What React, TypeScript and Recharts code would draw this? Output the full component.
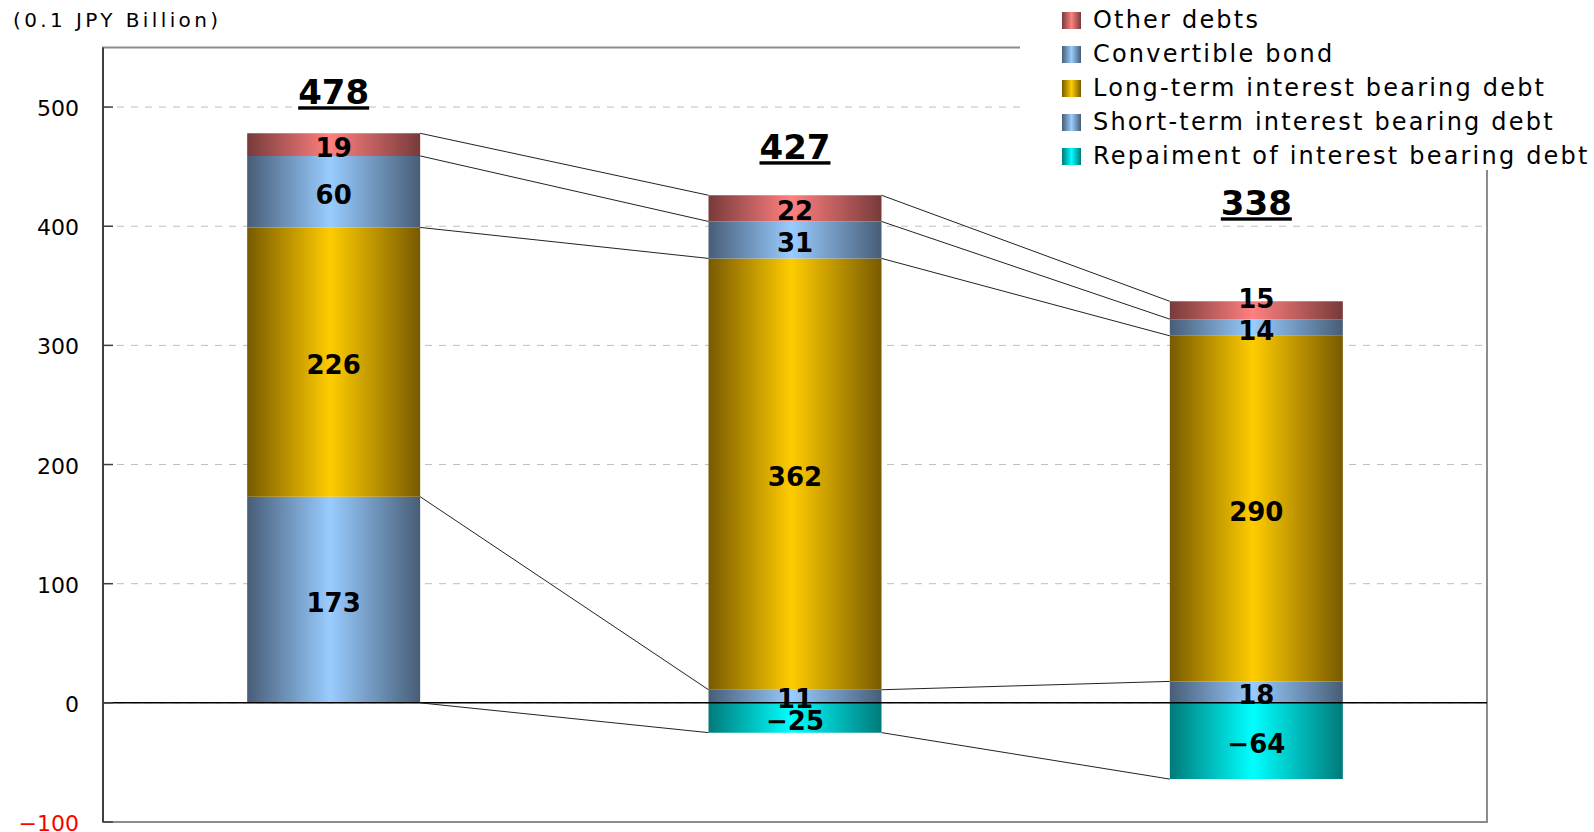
import React from "react";
import {
  ComposedChart,
  Bar,
  XAxis,
  YAxis,
  CartesianGrid,
  ReferenceLine,
  ReferenceArea,
  LabelList,
  Legend,
} from "recharts";

// bar positions on a numeric x axis (one unit per period)
const X_POS = [0.5, 1.5, 2.5];
const SHORT_TERM = [173, 11, 18];
const REPAYMENT = [0, -25, -64];
const LONG_TERM = [226, 362, 290];
const CONVERTIBLE = [60, 31, 14];
const OTHER = [19, 22, 15];
const TOTALS = [478, 427, 338];
const Y_TICKS = [-100, 0, 100, 200, 300, 400, 500];

const BAR_FRACTION = 0.375; // bar width as share of the category band
const HALF = BAR_FRACTION / 2;
const FONT = "'DejaVu Sans', sans-serif";
// how far (px) each total sits above its bar, as placed in the source
const TOTAL_LIFT = [29, 36, 86];

const SERIES = [
  { key: "short", name: "Short-term interest bearing debt", dark: "#475d77", light: "#99ccff" },
  { key: "repay", name: "Repaiment of interest bearing debt", dark: "#007a7a", light: "#00ffff" },
  { key: "long", name: "Long-term interest bearing debt", dark: "#785a00", light: "#ffcc00" },
  { key: "conv", name: "Convertible bond", dark: "#475d77", light: "#99ccff" },
  { key: "other", name: "Other debts", dark: "#783a3a", light: "#ff8080" },
];
const LEGEND_ORDER = ["other", "conv", "long", "short", "repay"];

const data = X_POS.map((x, i) => ({
  x,
  short: SHORT_TERM[i],
  repay: REPAYMENT[i],
  long: LONG_TERM[i],
  conv: CONVERTIBLE[i],
  other: OTHER[i],
}));

// stack boundaries that get joined from one bar to the next
const boundaries = [
  SHORT_TERM,
  SHORT_TERM.map((v, i) => v + LONG_TERM[i]),
  SHORT_TERM.map((v, i) => v + LONG_TERM[i] + CONVERTIBLE[i]),
  SHORT_TERM.map((v, i) => v + LONG_TERM[i] + CONVERTIBLE[i] + OTHER[i]),
  REPAYMENT,
];

const connectors: { x: number; y: number }[][] = [];
boundaries.forEach((b) => {
  for (let i = 0; i < X_POS.length - 1; i++) {
    connectors.push([
      { x: X_POS[i] + HALF, y: b[i] },
      { x: X_POS[i + 1] - HALF, y: b[i + 1] },
    ]);
  }
});

const fmt = (v: any) => (v < 0 ? "\u2212" + Math.abs(v) : String(v));

const YTick = (props: any) => {
  const { x, y, payload } = props;
  const v = payload.value;
  return (
    <text
      x={x}
      y={y}
      dy={9}
      textAnchor="end"
      fontSize={22}
      fontFamily={FONT}
      fill={v < 0 ? "#ff0000" : "#000"}
    >
      {v < 0 ? "\u2212" + Math.abs(v) : v}
    </text>
  );
};

const SegmentLabel = (props: any) => {
  const { x, y, width, height, value, top } = props;
  if (!value) return null;
  const h = Math.abs(height);
  const y0 = Math.min(y, y + height);
  // thin top segments get their label nudged up, clear of the one below
  const lift = top && h < 20 ? 14 : 0;
  return (
    <text
      x={x + width / 2}
      y={y0 + h / 2 + 3 - lift}
      textAnchor="middle"
      dominantBaseline="central"
      fontSize={26}
      fontWeight="bold"
      fontFamily={FONT}
      fill="#000"
    >
      {fmt(value)}
    </text>
  );
};

const TotalLabel = (props: any) => {
  const { x, y, width, index } = props;
  return (
    <text
      x={x + width / 2}
      y={y - TOTAL_LIFT[index]}
      textAnchor="middle"
      fontSize={34}
      fontWeight="bold"
      fontFamily={FONT}
      fill="#000"
      style={{ textDecoration: "underline" }}
    >
      {TOTALS[index]}
    </text>
  );
};

const renderLegend = () => (
  <div style={{ fontFamily: FONT, fontSize: 24, letterSpacing: 2.2, paddingTop: 3 }}>
    {LEGEND_ORDER.map((k) => {
      const s = SERIES.find((d) => d.key === k)!;
      return (
        <div key={s.key} style={{ display: "flex", alignItems: "center", height: 34 }}>
          <span
            style={{
              display: "inline-block",
              width: 19,
              height: 17,
              marginLeft: 42,
              marginRight: 12,
              background: `linear-gradient(to right, ${s.dark}, ${s.light} 50%, ${s.dark})`,
            }}
          />
          <span style={{ color: "#000", whiteSpace: "nowrap" }}>{s.name}</span>
        </div>
      );
    })}
  </div>
);

export default function App() {
  return (
    <div style={{ position: "absolute", left: 0, top: 0, width: 1594, height: 832, background: "#fff" }}>
      <div
        style={{
          position: "absolute",
          left: 13,
          top: 8,
          fontFamily: FONT,
          fontSize: 20,
          letterSpacing: 3.4,
          color: "#000",
        }}
      >
        (0.1 JPY Billion)
      </div>
      <ComposedChart
        width={1594}
        height={832}
        data={data}
        stackOffset="sign"
        barCategoryGap={`${((1 - BAR_FRACTION) / 2) * 100}%`}
        margin={{ top: 47.5, right: 107, bottom: 10, left: 0 }}
      >
        <defs>
          {SERIES.map((s) => (
            <linearGradient key={s.key} id={`grad-${s.key}`} x1="0" y1="0" x2="1" y2="0">
              <stop offset="0%" stopColor={s.dark} />
              <stop offset="48%" stopColor={s.light} />
              <stop offset="100%" stopColor={s.dark} />
            </linearGradient>
          ))}
        </defs>
        <CartesianGrid vertical={false} stroke="#bfbfbf" strokeDasharray="7 7" />
        <ReferenceArea
          x1={0}
          x2={3}
          y1={-100}
          y2={550}
          fill="none"
          fillOpacity={0}
          stroke="#8c8c8c"
          strokeWidth={2}
        />
        <XAxis type="number" dataKey="x" domain={[0, 3]} ticks={X_POS} hide />
        <YAxis
          type="number"
          domain={[-100, 550]}
          ticks={Y_TICKS}
          width={103}
          axisLine={{ stroke: "#404040", strokeWidth: 2 }}
          tickLine={{ stroke: "#404040", strokeWidth: 1.5 }}
          tickSize={-10}
          tickMargin={34}
          tick={<YTick />}
        />
        {SERIES.map((s) => (
          <Bar
            key={s.key}
            dataKey={s.key}
            name={s.name}
            stackId="a"
            fill={`url(#grad-${s.key})`}
            isAnimationActive={false}
          >
            <LabelList dataKey={s.key} content={<SegmentLabel top={s.key === "other"} />} />
            {s.key === "other" && <LabelList dataKey="other" content={<TotalLabel />} />}
          </Bar>
        ))}
        <ReferenceLine y={0} stroke="#000" strokeWidth={1.5} />
        {connectors.map((seg, i) => (
          <ReferenceLine key={i} segment={seg} stroke="#222" strokeWidth={1} />
        ))}
        <Legend
          layout="horizontal"
          verticalAlign="middle"
          align="center"
          content={renderLegend}
          wrapperStyle={{ position: "absolute", top: 0, left: 1020, width: 574, height: 170, background: "#fff" }}
        />
      </ComposedChart>
    </div>
  );
}
